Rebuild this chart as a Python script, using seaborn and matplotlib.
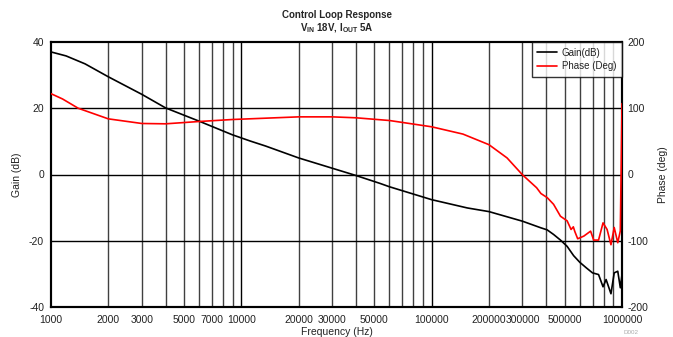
import numpy as np
import pandas as pd
import matplotlib
matplotlib.use("Agg")
import matplotlib.pyplot as plt
import seaborn as sns
from matplotlib.ticker import FixedLocator, NullLocator

# ---- data ----
gain_freq = [1000, 1200, 1510, 2000, 3000, 4000, 6000, 8960, 11140, 13400, 20000, 40000,
             53600, 60000, 100000, 154000, 200000, 300000, 375000, 404000, 437000,
             475000, 515000, 557000, 600000, 650000, 700000, 753000, 795000, 825000,
             875000, 910000, 950000, 980000, 1000000]
gain_db = [37.0, 35.8, 33.4, 29.5, 24.2, 20.1, 16.1, 12.0, 10.1, 8.6, 5.0, -0.3,
           -2.7, -3.7, -7.6, -10.1, -11.2, -14.1, -16.1, -16.7, -18.1,
           -19.8, -21.7, -24.5, -26.5, -28.2, -29.7, -30.2, -33.9, -31.7,
           -36.0, -29.7, -29.2, -34.2, -30.2]

phase_freq = [1000, 1150, 1390, 2000, 3000, 4000, 6000, 8960, 13400, 20000, 30000, 40000,
              60000, 100000, 146000, 200000, 249000, 300000, 356000, 375000, 405000,
              437000, 475000, 515000, 540000, 555000, 565000, 585000, 630000, 684000,
              710000, 753000, 795000, 835000, 875000, 910000, 950000, 980000, 1000000]
phase_deg = [122, 114, 100, 84, 77, 76.5, 80, 83, 85, 87, 87, 85.6,
             81.5, 72, 61, 45, 25, -0.5, -20, -28.7, -35,
             -45, -63, -70, -83, -79, -86, -97, -93, -85.5,
             -99, -99, -73, -83, -106, -80, -103, -85, 107]

x_ticks = [1000, 2000, 3000, 5000, 7000, 10000, 20000, 30000, 50000, 100000,
           200000, 300000, 500000, 1000000]
gain_ticks = [-40, -20, 0, 20, 40]
phase_ticks = [-200, -100, 0, 100, 200]

gain_df = pd.DataFrame({"freq": gain_freq, "val": gain_db})
phase_df = pd.DataFrame({"freq": phase_freq, "val": phase_deg})

sns.set_style("white")
plt.rcParams["font.family"] = ["Liberation Sans", "DejaVu Sans"]
plt.rcParams["axes.unicode_minus"] = False
plt.rcParams["mathtext.fontset"] = "custom"
plt.rcParams["mathtext.rm"] = "Liberation Sans"
plt.rcParams["mathtext.bf"] = "Liberation Sans:bold"

txt = "#222222"
fig = plt.figure(figsize=(6.73, 3.37), dpi=100)
ax = fig.add_axes([51 / 673, 1 - 307 / 337, (622 - 51) / 673, (307 - 42) / 337])
ax2 = ax.twinx()

# grid
for f in [2000, 3000, 4000, 5000, 6000, 7000, 8000, 9000,
          20000, 30000, 40000, 50000, 60000, 70000, 80000, 90000,
          200000, 300000, 400000, 500000, 600000, 700000, 800000, 900000]:
    ax.axvline(f, color="#404040", lw=1.0, zorder=1)
for f in [10000, 100000]:
    ax.axvline(f, color="black", lw=1.0, zorder=1)
for g in [-20, 0, 20]:
    ax.axhline(g, color="black", lw=1.0, zorder=1)

sns.lineplot(data=gain_df, x="freq", y="val", ax=ax, color="black", lw=1.2,
             label="Gain(dB)", legend=False, zorder=3)
sns.lineplot(data=phase_df, x="freq", y="val", ax=ax2, color="#ff0000", lw=1.2,
             label="Phase (Deg)", legend=False, zorder=3)

ax.set_xscale("log")
ax.set_xlim(1000, 1000000)
ax.set_ylim(-40, 40)
ax2.set_ylim(-200, 200)
ax.xaxis.set_major_locator(FixedLocator(x_ticks))
ax.xaxis.set_minor_locator(NullLocator())
ax.set_xticklabels([str(t) for t in x_ticks])
ax.set_yticks(gain_ticks)
ax2.set_yticks(phase_ticks)

fs = 7.5
ax.tick_params(axis="x", length=0, labelsize=fs, pad=6, colors=txt)
ax.tick_params(axis="y", length=0, labelsize=fs, pad=5, colors=txt)
ax2.tick_params(axis="y", length=0, labelsize=fs, pad=4, colors=txt)
ax.set_xlabel("Frequency (Hz)", fontsize=fs, labelpad=1, color=txt)
ax.set_ylabel("Gain (dB)", fontsize=fs, labelpad=5, color=txt)
ax2.set_ylabel("Phase (deg)", fontsize=fs, labelpad=7, color=txt)

for a in (ax, ax2):
    for s in a.spines.values():
        s.set_color("black")
        s.set_linewidth(1.5)

h1, l1 = ax.get_legend_handles_labels()
h2, l2 = ax2.get_legend_handles_labels()
leg = ax2.legend(h1 + h2, l1 + l2, loc="upper right", fontsize=7, frameon=True,
                 fancybox=False, edgecolor="black", borderaxespad=0.0,
                 handlelength=2.0, handletextpad=0.5, borderpad=0.6,
                 labelspacing=0.35)
leg.get_frame().set_linewidth(1.0)
for t in leg.get_texts():
    t.set_color(txt)

fig.text(0.5 * (51 + 622) / 673, 1 - 15 / 337, "Control Loop Response",
         ha="center", va="center", fontsize=7, fontweight="bold")
fig.text(0.5 * (51 + 622) / 673, 1 - 28 / 337,
         r"V$_{\mathbf{IN}}$ 18V, I$_{\mathbf{OUT}}$ 5A",
         ha="center", va="center", fontsize=7, fontweight="bold")
fig.text(631 / 673, 1 - 333 / 337, "D002", ha="center", va="center",
         fontsize=4.5, color="#aaaaaa")

fig.savefig("out.png", dpi=100)
